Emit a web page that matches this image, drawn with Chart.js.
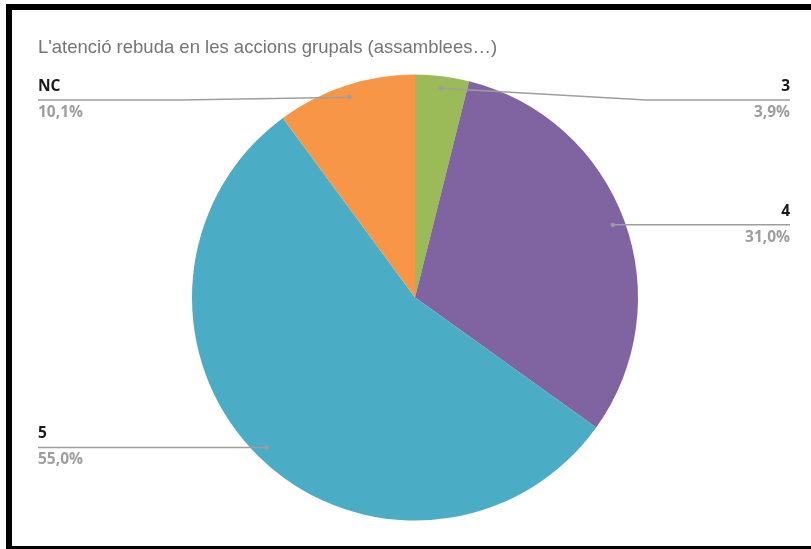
<!DOCTYPE html>
<html>
<head>
<meta charset="utf-8">
<script src="https://cdn.jsdelivr.net/npm/chart.js@4/dist/chart.umd.min.js"></script>
<style>
  html, body { margin: 0; padding: 0; background: #fff; overflow: hidden; }
  #wrap { position: relative; width: 811px; height: 549px; }
  #frame {
    position: absolute; left: 6px; top: 4px; width: 900px; height: 536px;
    border: 6px solid #000; pointer-events: none;
  }
</style>
</head>
<body>
<div id="wrap">
  <canvas id="chart_atencio" width="811" height="549"></canvas>
  <div id="frame"></div>
</div>
<script>
const titol = "L'atenció rebuda en les accions grupals (assamblees…)";
const labels = ["3", "4", "5", "NC"];
const valors = [3.9, 31.0, 55.0, 10.1];
const colors = ["#9bbb59", "#8064a2", "#4bacc6", "#f79646"];

// etiquetes amb línia guia, a l'estil del full de càlcul
const etiquetesPlugin = {
  id: "etiquetes",
  afterDraw(chart) {
    const ctx = chart.ctx;
    const total = valors.reduce((a, b) => a + b, 0);
    const meta = chart.getDatasetMeta(0);

    ctx.save();
    ctx.font = "18.5px 'Liberation Sans', Arial, sans-serif";
    ctx.fillStyle = "#757575";
    ctx.textAlign = "left";
    ctx.textBaseline = "alphabetic";
    ctx.fillText(titol, 38, 53);

    meta.data.forEach((arc, i) => {
      const p = arc.getProps(["x", "y", "startAngle", "endAngle", "outerRadius"], true);
      const mid = (p.startAngle + p.endAngle) / 2;
      const r = p.outerRadius * 0.945;
      const dx = p.x + Math.cos(mid) * r;
      const dy = p.y + Math.sin(mid) * r;
      const dreta = Math.cos(mid) >= 0;
      const lineY = Math.max(dy, 100);
      const colze = dreta ? p.x + p.outerRadius + 8 : p.x - p.outerRadius - 12;
      const xText = dreta ? 790 : 38;

      ctx.strokeStyle = "#9e9e9e";
      ctx.lineWidth = 1.5;
      ctx.beginPath();
      ctx.moveTo(dx, dy);
      if (Math.abs(lineY - dy) > 0.5) ctx.lineTo(colze, lineY);
      ctx.lineTo(xText, lineY);
      ctx.stroke();

      ctx.fillStyle = "#9e9e9e";
      ctx.beginPath();
      ctx.arc(dx, dy, 2.2, 0, Math.PI * 2);
      ctx.fill();

      const pct = (valors[i] / total * 100).toFixed(1).replace(".", ",") + "%";
      ctx.textAlign = dreta ? "right" : "left";
      ctx.font = "bold 15.5px 'Open Sans', 'Noto Sans', sans-serif";
      ctx.fillStyle = "#1a1a1a";
      ctx.fillText(labels[i], xText, lineY - 9);
      ctx.fillStyle = "#9e9e9e";
      ctx.fillText(pct, xText, lineY + 17);
    });
    ctx.restore();
  }
};

const config = {
  type: "pie",
  data: {
    labels: labels,
    datasets: [{
      data: valors,
      backgroundColor: colors,
      borderWidth: 0,
      hoverOffset: 0
    }]
  },
  options: {
    responsive: false,
    animation: false,
    layout: { padding: { top: 74.5, bottom: 28.5, left: 19, right: 0 } },
    plugins: {
      legend: { display: false },
      tooltip: { enabled: false }
    }
  },
  plugins: [etiquetesPlugin]
};

var myChart = new Chart(document.getElementById("chart_atencio"), config);
</script>
</body>
</html>
